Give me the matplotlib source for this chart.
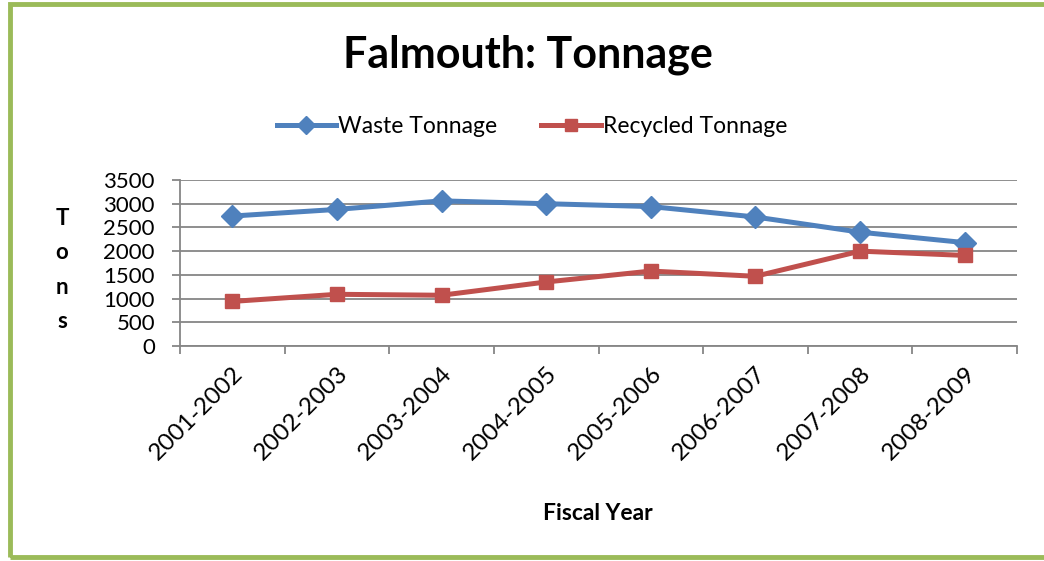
import matplotlib.pyplot as plt
import numpy as np
from matplotlib.patches import Rectangle

plt.rcParams['font.family'] = ['Lato', 'DejaVu Sans']

# datos
years = ['2001-2002', '2002-2003', '2003-2004', '2004-2005',
         '2005-2006', '2006-2007', '2007-2008', '2008-2009']
waste = [2740, 2880, 3060, 3000, 2940, 2720, 2400, 2180]
recycled = [940, 1090, 1070, 1350, 1580, 1470, 2000, 1910]
y_ticks = [0, 500, 1000, 1500, 2000, 2500, 3000, 3500]

blue = '#4F81BD'
red = '#C0504D'
green = '#9BBB59'
gray = '#868686'

fig = plt.figure(figsize=(10.44, 5.61), dpi=100)
ax = fig.add_axes([180/1044, 1 - 346/561, (1017 - 180)/1044, (346 - 180)/561])

x = np.arange(len(years))
ax.plot(x, waste, color=blue, lw=3.6, marker='D', ms=11, label='Waste Tonnage')
ax.plot(x, recycled, color=red, lw=3.6, marker='s', ms=10.5, label='Recycled Tonnage')

ax.set_ylim(0, 3500)
ax.set_xlim(-0.5, len(years) - 0.5)
ax.set_yticks(y_ticks)
ax.tick_params(axis='y', labelsize=16, length=6, width=1.3, color=gray, pad=12)
ax.set_xticks(x)
ax.set_xticklabels(years, rotation=45, ha='right', rotation_mode='anchor', fontsize=17.5)
ax.tick_params(axis='x', length=0, pad=12)
ax.set_xticks(np.arange(len(years) + 1) - 0.5, minor=True)
ax.tick_params(axis='x', which='minor', length=6, width=1.3, color=gray)

ax.grid(axis='y', color=gray, lw=1.3)
ax.set_axisbelow(True)
for s in ['top', 'right']:
    ax.spines[s].set_visible(False)
for s in ['left', 'bottom']:
    ax.spines[s].set_color(gray)
    ax.spines[s].set_linewidth(1.3)

# títulos
fig.text(528/1044, 1 - 55/561, 'Falmouth: Tonnage', ha='center', va='center',
         fontsize=31, fontweight='bold')
fig.text(62/1044, 1 - 270/561, 'T\no\nn\ns', ha='center', va='center',
         fontsize=16, fontweight='bold', linespacing=1.8)
fig.text(598/1044, 1 - 513/561, 'Fiscal Year', ha='center', va='center',
         fontsize=16.5, fontweight='bold')

fig.legend(loc='center', bbox_to_anchor=(532/1044, 1 - 127/561), ncol=2,
           frameon=False, fontsize=16.5, handlelength=2.6, handletextpad=0.1,
           columnspacing=1.9, markerscale=0.85)

# borde verde
fig.patches.append(Rectangle((10/1044, 4/561), 1.2, 1 - 8/561,
                             transform=fig.transFigure, fill=False,
                             edgecolor=green, lw=3.5))

fig.savefig('out.png', dpi=100)
